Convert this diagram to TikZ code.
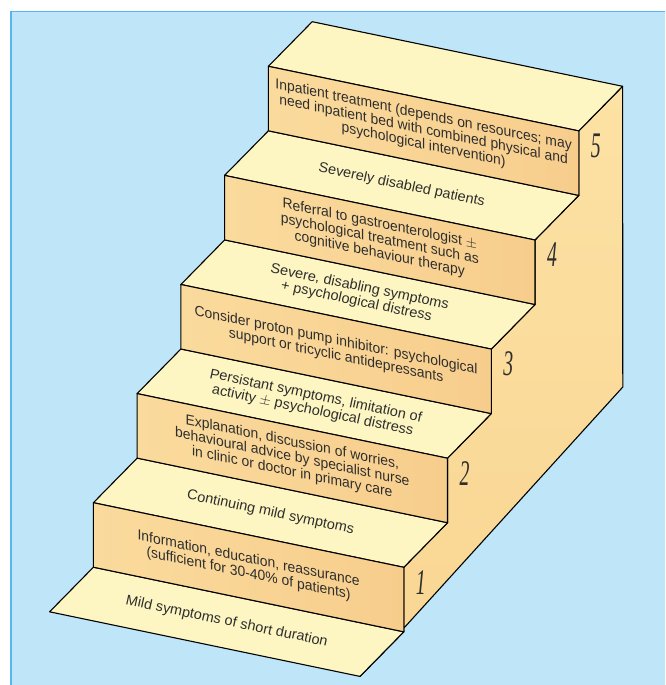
\documentclass[tikz,border=0pt]{standalone}
\usepackage{fontspec}
\setmainfont{Liberation Sans}[FakeStretch=0.96]
\newfontfamily\treadfont{Liberation Sans}[FakeStretch=0.98]
\newfontfamily\numfont{Liberation Serif}[FakeStretch=0.55]
\usetikzlibrary{calc}
\definecolor{panelbg}{HTML}{BEE5F8}
\definecolor{panelline}{HTML}{5AB4EE}
\definecolor{treadcol}{HTML}{FEF6C2}
\definecolor{riserL}{HTML}{FADB9D}
\definecolor{riserR}{HTML}{F7CD8C}
\definecolor{sideA}{HTML}{FCE2A4}
\definecolor{sideB}{HTML}{F9D592}
\definecolor{textcol}{HTML}{2E2E2E}
\tikzset{
  edge/.style={draw=black, line width=1.1pt, line join=round},
  tread/.style={edge, fill=treadcol},
  riser/.style={edge, left color=riserL, right color=riserR},
  side/.style={edge, top color=sideA, bottom color=sideB},
  risertext/.style={align=center, inner sep=0pt, text=textcol, yslant=-0.208,
    font=\fontsize{14.5}{15}\selectfont},
  treadtext/.style={align=center, inner sep=0pt, text=textcol, yslant=-0.208, xslant=0.21,
    font=\treadfont\fontsize{14.5}{15}\selectfont},
  stepnum/.style={inner sep=0pt, text=textcol, font=\numfont\itshape\fontsize{36}{36}\selectfont}
}
\begin{document}
\begin{tikzpicture}[x=1pt,y=-1pt]
\useasboundingbox (0,0) rectangle (665,685);
\fill[white] (0,0) rectangle (665,685);
\fill[panelbg] (10,11) rectangle (665,685);
\draw[panelline, line width=1.5pt] (10.75,685) -- (10.75,11.75) -- (665,11.75);

% front-left corners of the risers (L1..L5) and ground tread (L0)
\coordinate (L5) at (268.4,66.3);
\coordinate (L4) at (224.6,175.4);
\coordinate (L3) at (180.9,284.5);
\coordinate (L2) at (137.1,393.6);
\coordinate (L1) at (93.4,502.7);
\coordinate (L0) at (49.6,611.8);
\coordinate (BB) at (622.8,387);

% side face
\path[side] ($(L5)+(354.2,20)$) -- ($(L5)+(310.4,64.6)$) -- ($(L5)+(310.4,129.1)$)
  -- ($(L4)+(310.4,64.6)$) -- ($(L4)+(310.4,129.1)$)
  -- ($(L3)+(310.4,64.6)$) -- ($(L3)+(310.4,129.1)$)
  -- ($(L2)+(310.4,64.6)$) -- ($(L2)+(310.4,129.1)$)
  -- ($(L1)+(310.4,64.6)$) -- ($(L1)+(310.4,129.1)$)
  -- ($(L0)+(310.4,64.6)$) -- (BB) -- cycle;

% treads and risers
\foreach \k in {0,...,5}{
  \path[tread] (L\k) -- ($(L\k)+(310.4,64.6)$) -- ($(L\k)+(354.2,20)$) -- ($(L\k)+(43.8,-44.6)$) -- cycle;
}
\foreach \k in {1,...,5}{
  \path[riser] (L\k) -- ($(L\k)+(310.4,64.6)$) -- ($(L\k)+(310.4,129.1)$) -- ($(L\k)+(0,64.5)$) -- cycle;
}

% riser texts
\node[risertext] (r5) at ($(L5)+(155.2,64)$) {Inpatient treatment (depends on resources; may\\need inpatient bed with combined physical and\\psychological intervention)};
\node[risertext] (r4) at ($(L4)+(155.2,64)$) {Referral to gastroenterologist $\pm$\\psychological treatment such as\\cognitive behaviour therapy};
\node[risertext] (r3) at ($(L3)+(155.2,64)$) {Consider proton pump inhibitor: psychological\\support or tricyclic antidepressants};
\node[risertext] (r2) at ($(L2)+(155.2,64)$) {Explanation, discussion of worries,\\behavioural advice by specialist nurse\\in clinic or doctor in primary care};
\node[risertext] (r1) at ($(L1)+(155.2,64)$) {Information, education, reassurance\\(sufficient for 30-40\% of patients)};

% tread texts
\node[treadtext] (t4) at ($(L4)+(177.1,10)$) {Severely disabled patients};
\node[treadtext] (t3) at ($(L3)+(177.1,10)$) {Severe, disabling symptoms\\+ psychological distress};
\node[treadtext] (t2) at ($(L2)+(177.1,10)$) {Persistant symptoms, limitation of\\activity $\pm$ psychological distress};
\node[treadtext] (t1) at ($(L1)+(177.1,10)$) {Continuing mild symptoms};
\node[treadtext] (t0) at ($(L0)+(177.1,10)$) {Mild symptoms of short duration};

% step numbers
\node[stepnum] (n5) at ($(L5)+(327.4,79.6)$) {5};
\node[stepnum] (n4) at ($(L4)+(327.4,79.6)$) {4};
\node[stepnum] (n3) at ($(L3)+(327.4,79.6)$) {3};
\node[stepnum] (n2) at ($(L2)+(327.4,79.6)$) {2};
\node[stepnum] (n1) at ($(L1)+(327.4,79.6)$) {1};
\end{tikzpicture}
\end{document}
